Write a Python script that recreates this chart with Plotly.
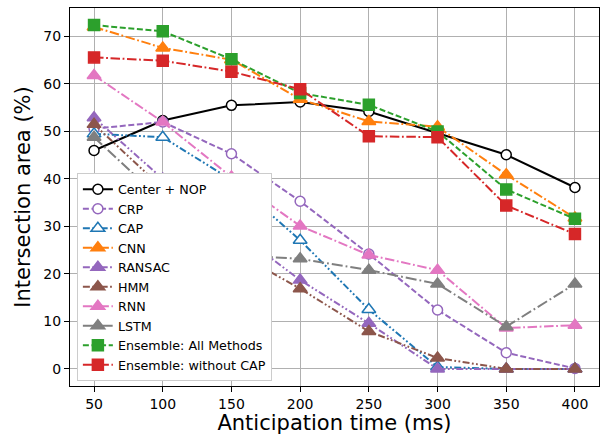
import plotly.graph_objects as go

# Anticipation horizons (ms)
times = [50, 100, 150, 200, 250, 300, 350, 400]

# Intersection area (%) per method
center_nop = [46.0, 52.3, 55.5, 56.2, 54.2, 49.7, 45.1, 38.2]
crp = [50.6, 52.0, 45.3, 35.3, 24.2, 12.4, 3.4, 0.1]
cap = [49.5, 48.8, 39.8, 27.1, 12.5, 0.4, 0.0, 0.0]
cnn = [72.0, 67.6, 65.1, 56.8, 52.1, 51.0, 40.9, 31.8]
ransac = [52.9, 40.0, 29.6, 18.7, 9.6, 0.0, 0.0, 0.0]
hmm = [51.5, 38.0, 25.0, 16.9, 7.9, 2.3, 0.0, 0.0]
rnn = [61.8, 52.0, 40.4, 30.1, 24.0, 20.8, 8.6, 9.2]
lstm = [48.8, 35.3, 24.0, 23.2, 20.8, 17.9, 8.9, 17.9]
ens_all = [72.4, 71.1, 65.2, 58.1, 55.6, 50.0, 37.8, 31.6]
ens_no_cap = [65.6, 64.9, 62.6, 58.9, 49.0, 48.8, 34.4, 28.4]

y_ticks = [0, 10, 20, 30, 40, 50, 60, 70]
x_ticks = [50, 100, 150, 200, 250, 300, 350, 400]

FONT = "DejaVu Sans"
DASH = "6px,2.6px"
DASHDOT = "9.5px,2.6px,1.8px,2.6px"
DASHDOT_LONG = "11px,3px,1.8px,3px"
DASHDOTDOT = "7px,2.4px,1.8px,2.4px,1.8px,2.4px"

series = [
    ("Center + NOP", center_nop, "black", "solid", "circle", True),
    ("CRP", crp, "#9467bd", DASH, "circle", True),
    ("CAP", cap, "#1f77b4", DASHDOTDOT, "triangle-up", True),
    ("CNN", cnn, "#ff7f0e", DASHDOT, "triangle-up", False),
    ("RANSAC", ransac, "#9467bd", DASHDOTDOT, "triangle-up", False),
    ("HMM", hmm, "#8c564b", DASHDOTDOT, "triangle-up", False),
    ("RNN", rnn, "#e377c2", DASHDOT, "triangle-up", False),
    ("LSTM", lstm, "#7f7f7f", DASHDOT_LONG, "triangle-up", False),
    ("Ensemble: All Methods", ens_all, "#2ca02c", DASH, "square", False),
    ("Ensemble: without CAP", ens_no_cap, "#d62728", DASHDOT, "square", False),
]

sizes = {"circle": 10, "triangle-up": 12, "square": 11}

fig = go.Figure()
for name, vals, color, dash, symbol, hollow in series:
    fig.add_trace(go.Scatter(
        x=times, y=vals, name=name, mode="lines+markers",
        line=dict(color=color, width=2, dash=dash),
        marker=dict(symbol=symbol, size=sizes[symbol],
                    color="white" if hollow else color,
                    line=dict(color=color, width=1.5)),
    ))

axis_common = dict(
    showline=True, linecolor="black", linewidth=1.2, mirror=True,
    showgrid=True, gridcolor="#b0b0b0", gridwidth=1,
    ticks="outside", ticklen=5, tickwidth=1, tickcolor="black",
    tickfont=dict(family=FONT, size=14, color="black"),
    zeroline=False,
)

fig.update_layout(
    width=604, height=435,
    margin=dict(l=70, r=5, t=8, b=49),
    paper_bgcolor="white", plot_bgcolor="white",
    font=dict(family=FONT, color="black"),
    xaxis=dict(range=[32.5, 417.5], tickvals=x_ticks,
               title=dict(text="Anticipation time (ms)", font=dict(size=21), standoff=2),
               **axis_common),
    yaxis=dict(range=[-3.6, 76.0], tickvals=y_ticks,
               title=dict(text="Intersection area (%)", font=dict(size=21), standoff=6),
               **axis_common),
    legend=dict(x=0.013, y=0.012, xanchor="left", yanchor="bottom",
                bgcolor="white", bordercolor="#cccccc", borderwidth=1,
                font=dict(family=FONT, size=12.7), itemwidth=30, tracegroupgap=0),
    showlegend=True,
)

fig.write_html("out.html")
